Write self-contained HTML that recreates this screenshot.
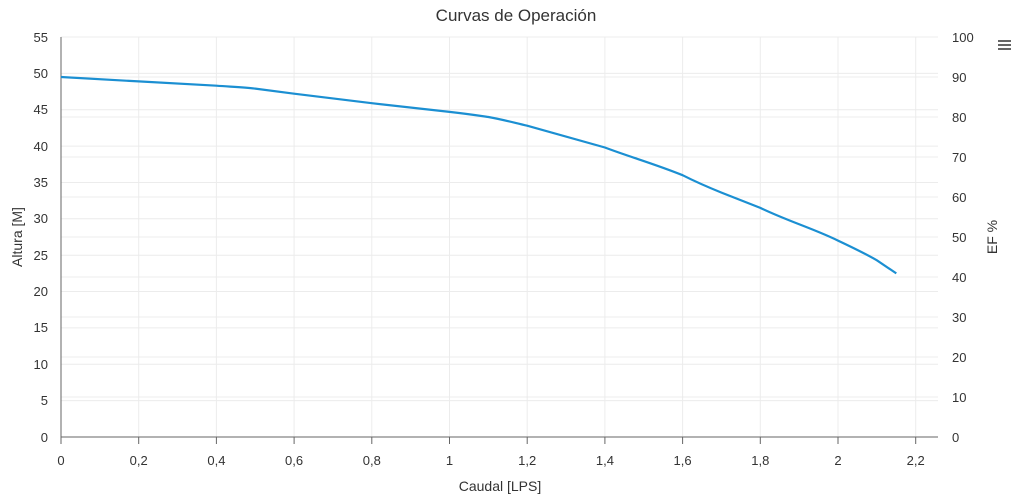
<!DOCTYPE html>
<html><head><style>body{margin:0;background:#fff}svg{display:block;font-family:"Liberation Sans",sans-serif}</style></head>
<body>
<svg width="1024" height="502" xmlns="http://www.w3.org/2000/svg">
<text x="516" y="21" font-size="17" text-anchor="middle" fill="#333">Curvas de Operación</text>
<g stroke="#ececec" stroke-width="1">
<line x1="61" y1="37" x2="938" y2="37"/><line x1="61" y1="73.4" x2="938" y2="73.4"/><line x1="61" y1="109.7" x2="938" y2="109.7"/><line x1="61" y1="146.1" x2="938" y2="146.1"/><line x1="61" y1="182.5" x2="938" y2="182.5"/><line x1="61" y1="218.8" x2="938" y2="218.8"/><line x1="61" y1="255.2" x2="938" y2="255.2"/><line x1="61" y1="291.5" x2="938" y2="291.5"/><line x1="61" y1="327.9" x2="938" y2="327.9"/><line x1="61" y1="364.3" x2="938" y2="364.3"/><line x1="61" y1="400.6" x2="938" y2="400.6"/>
<line x1="61" y1="77" x2="938" y2="77"/><line x1="61" y1="117" x2="938" y2="117"/><line x1="61" y1="157" x2="938" y2="157"/><line x1="61" y1="197" x2="938" y2="197"/><line x1="61" y1="237" x2="938" y2="237"/><line x1="61" y1="277" x2="938" y2="277"/><line x1="61" y1="317" x2="938" y2="317"/><line x1="61" y1="357" x2="938" y2="357"/><line x1="61" y1="397" x2="938" y2="397"/>
<line x1="138.7" y1="37" x2="138.7" y2="437"/><line x1="216.4" y1="37" x2="216.4" y2="437"/><line x1="294.1" y1="37" x2="294.1" y2="437"/><line x1="371.8" y1="37" x2="371.8" y2="437"/><line x1="449.5" y1="37" x2="449.5" y2="437"/><line x1="527.2" y1="37" x2="527.2" y2="437"/><line x1="604.9" y1="37" x2="604.9" y2="437"/><line x1="682.6" y1="37" x2="682.6" y2="437"/><line x1="760.3" y1="37" x2="760.3" y2="437"/><line x1="838" y1="37" x2="838" y2="437"/><line x1="915.7" y1="37" x2="915.7" y2="437"/>
</g>
<g stroke="#666" stroke-width="1">
<line x1="61" y1="37" x2="61" y2="437"/><line x1="61" y1="437" x2="938" y2="437"/>
<line x1="61" y1="437" x2="61" y2="444"/><line x1="138.7" y1="437" x2="138.7" y2="444"/><line x1="216.4" y1="437" x2="216.4" y2="444"/><line x1="294.1" y1="437" x2="294.1" y2="444"/><line x1="371.8" y1="437" x2="371.8" y2="444"/><line x1="449.5" y1="437" x2="449.5" y2="444"/><line x1="527.2" y1="437" x2="527.2" y2="444"/><line x1="604.9" y1="437" x2="604.9" y2="444"/><line x1="682.6" y1="437" x2="682.6" y2="444"/><line x1="760.3" y1="437" x2="760.3" y2="444"/><line x1="838" y1="437" x2="838" y2="444"/><line x1="915.7" y1="437" x2="915.7" y2="444"/>
</g>
<g font-size="13" fill="#333" text-anchor="end">
<text x="48" y="42">55</text><text x="48" y="78">50</text><text x="48" y="114">45</text><text x="48" y="151">40</text><text x="48" y="187">35</text><text x="48" y="223">30</text><text x="48" y="260">25</text><text x="48" y="296">20</text><text x="48" y="332">15</text><text x="48" y="369">10</text><text x="48" y="405">5</text><text x="48" y="442">0</text>
</g>
<g font-size="13" fill="#333" text-anchor="start">
<text x="952" y="42">100</text><text x="952" y="82">90</text><text x="952" y="122">80</text><text x="952" y="162">70</text><text x="952" y="202">60</text><text x="952" y="242">50</text><text x="952" y="282">40</text><text x="952" y="322">30</text><text x="952" y="362">20</text><text x="952" y="402">10</text><text x="952" y="442">0</text>
</g>
<g font-size="13" fill="#333" text-anchor="middle">
<text x="61" y="465">0</text><text x="138.7" y="465">0,2</text><text x="216.4" y="465">0,4</text><text x="294.1" y="465">0,6</text><text x="371.8" y="465">0,8</text><text x="449.5" y="465">1</text><text x="527.2" y="465">1,2</text><text x="604.9" y="465">1,4</text><text x="682.6" y="465">1,6</text><text x="760.3" y="465">1,8</text><text x="838" y="465">2</text><text x="915.7" y="465">2,2</text>
<text x="500" y="491" font-size="14">Caudal [LPS]</text>
<text transform="translate(22,237) rotate(-90)" font-size="14">Altura [M]</text>
<text transform="translate(997,237) rotate(-90)" font-size="14">EF %</text>
</g>
<path d="M61,77 L138.7,81.4 L216.4,85.7 C235,87 245,87.5 255.3,88.6 L294.1,93.7 L371.8,103.2 L449.5,111.9 C468,114 478,115.5 488.4,117 C505,120 515,123 527.2,125.7 L604.9,147.5 C630,157 655,164 682.6,175.2 C700,184 710,188 721.5,192.6 L760.3,207.9 C790,222 812,228 838,240.6 C858,250 866,254 876.9,260.3 L896.3,273.4" fill="none" stroke="#1b8fd2" stroke-width="2.2"/>
<g fill="#666"><rect x="998" y="40" width="13" height="2"/><rect x="998" y="44" width="13" height="2"/><rect x="998" y="48" width="13" height="2"/></g>
</svg>
</body></html>
